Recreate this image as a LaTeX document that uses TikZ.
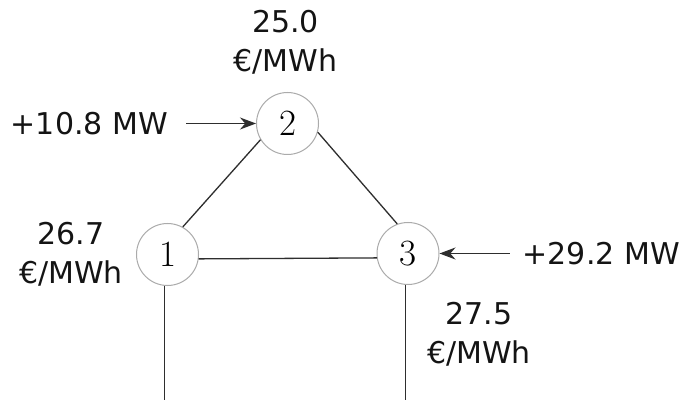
\documentclass[tikz,border=0pt]{standalone}
\usepackage{fontspec}
\setsansfont{DejaVu Sans}
\usepackage{tikz}
\usetikzlibrary{arrows.meta,positioning}
\usepackage{xcolor}
\definecolor{inktext}{HTML}{141414}
\definecolor{branchgray}{HTML}{2E2E2E}
\definecolor{busring}{HTML}{ABABAB}

\begin{document}
\begin{tikzpicture}[
  x=1pt, y=-1pt,
  font=\sffamily\fontsize{30}{39}\selectfont,
  >={Stealth[length=16pt,width=12pt]},
  busnode/.style={
    circle,
    draw=busring,
    fill=white,
    line width=1pt,
    minimum size=62pt,
    inner sep=0pt,
    font=\rmfamily\fontsize{37}{42}\selectfont,
    text=black
  },
  pricelabel/.style={
    align=center,
    inner sep=0pt,
    text=inktext
  },
  injlabel/.style={
    inner sep=0pt,
    text=inktext
  },
  branch/.style={
    line width=1.3pt,
    draw=branchgray
  },
  injarrow/.style={
    ->,
    line width=1.3pt,
    draw=branchgray
  }
]

  % Canvas
  \useasboundingbox (0,0) rectangle (696,403);
  \fill[white] (0,0) rectangle (696,403);

  % --- Buses ---
  \node[busnode] (n1) at (167.5,254.5) {1};
  \node[busnode] (n2) at (287.5,123.5) {2};
  \node[busnode] (n3) at (408,253.5) {3};

  % --- Nodal prices ---
  \node[pricelabel, above=18pt of n2, xshift=-2pt] (p2) {25.0\\€/MWh};
  \node[pricelabel, left=13pt of n1] (p1) {26.7\\€/MWh};
  \node[pricelabel, below=17pt of n3, xshift=71pt] (p3) {27.5\\€/MWh};

  % --- Injections ---
  \node[injlabel, left=88pt of n2] (g2) {+10.8 MW};
  \node[injlabel, right=83pt of n3] (g3) {+29.2 MW};

  % Branches between buses
  \draw[branch] (n1.61) -- (n2.211);
  \draw[branch] (n2.-16) -- (n3.110);
  \draw[branch] (n1.-8) -- (n3.188);

  % Open feeders towards the bottom edge
  \coordinate (ground) at (0,400);
  \coordinate (f1) at (n1.264 |- ground);
  \coordinate (f3) at (n3.266 |- ground);
  \draw[branch] (n1.264) -- (f1);
  \draw[branch] (n3.266) -- (f3);

  % Injection arrows
  \draw[injarrow, shorten <=18pt] (g2.east) -- (n2.west);
  \draw[injarrow, shorten <=13pt] (g3.west) -- (n3.east);

\end{tikzpicture}
\end{document}
